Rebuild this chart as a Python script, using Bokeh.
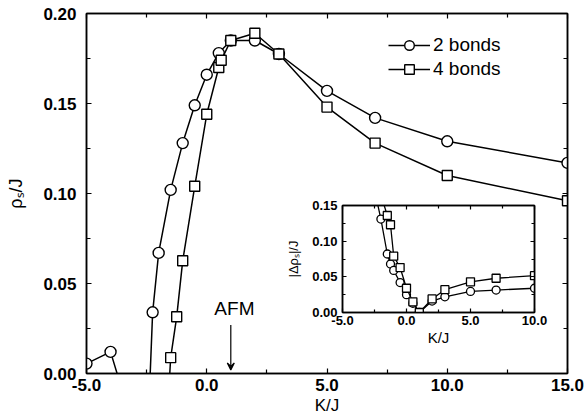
from bokeh.plotting import figure
from bokeh.layouts import column
from bokeh.models import (Range1d, LinearAxis, FixedTicker, NumeralTickFormatter,
                          CustomJSTickFormatter, Legend, LegendItem, Label, Arrow, VeeHead)
from bokeh.embed import file_html
from bokeh.resources import INLINE

# ---- main panel data (rho_s/J vs K/J) ----
k_2bonds = [-5.0, -4.0, -3.0, -2.5, -2.25, -2.0, -1.5, -1.0, -0.5, 0.0, 0.5, 1.0, 2.0, 3.0, 5.0, 7.0, 10.0, 15.0]
rho_2bonds = [0.0055, 0.012, -0.032, -0.05, 0.034, 0.067, 0.102, 0.128, 0.149, 0.166, 0.178, 0.185, 0.185, 0.1775, 0.157, 0.142, 0.129, 0.117]

k_4bonds = [-1.75, -1.5, -1.25, -1.0, -0.5, 0.0, 0.5, 0.6, 1.0, 2.0, 3.0, 5.0, 7.0, 10.0, 15.0]
rho_4bonds = [-0.05, 0.0088, 0.0315, 0.0626, 0.104, 0.144, 0.170, 0.174, 0.185, 0.189, 0.1775, 0.148, 0.128, 0.110, 0.096]

# ---- inset data (|delta rho_s|/J vs K/J) ----
dk_2bonds = [-2.5, -2.0, -1.5, -1.25, -1.0, -0.5, 0.0, 0.5, 1.0, 2.0, 3.0, 5.0, 7.0, 10.0]
drho_2bonds = [0.172, 0.131, 0.082, 0.068, 0.059, 0.042, 0.025, 0.013, 0.0, 0.016, 0.022, 0.0295, 0.0315, 0.034]

dk_4bonds = [-2.0, -1.5, -1.25, -1.0, -0.5, 0.0, 0.5, 1.0, 2.0, 3.0, 5.0, 7.0, 10.0]
drho_4bonds = [0.165, 0.136, 0.123, 0.079, 0.063, 0.034, 0.015, 0.0, 0.019, 0.032, 0.043, 0.048, 0.0516]

# ---- ticks ----
main_x_ticks = [-5.0, 0.0, 5.0, 10.0, 15.0]
main_x_minor = [-2.5, 2.5, 7.5, 12.5]
main_y_ticks = [0.0, 0.05, 0.10, 0.15, 0.20]
main_y_minor = [0.025, 0.075, 0.125, 0.175]
inset_x_ticks = [-5.0, 0.0, 5.0, 10.0]
inset_x_minor = [-2.5, 2.5, 7.5]
inset_y_ticks = [0.0, 0.05, 0.10, 0.15]
inset_y_minor = [0.025, 0.075, 0.125]

labels = ["2 bonds", "4 bonds"]
afm_text = "AFM"
afm_k = 1.0

FONT = "Liberation Sans"


def style_axis(ax, show_labels, lab_size, tick_in, minor_in, lw):
    ax.axis_line_width = lw
    ax.axis_line_color = "black"
    ax.major_tick_in = tick_in
    ax.major_tick_out = 0
    ax.minor_tick_in = minor_in
    ax.minor_tick_out = 0
    ax.major_tick_line_width = 1.2
    ax.minor_tick_line_width = 1.2
    ax.major_tick_line_color = "black"
    ax.minor_tick_line_color = "black"
    ax.major_label_text_font = FONT
    ax.major_label_text_font_style = "bold"
    ax.major_label_text_color = "black"
    ax.axis_label_text_color = "black"
    ax.axis_label_text_font = FONT
    ax.axis_label_text_font_style = "normal"
    if show_labels:
        ax.major_label_text_font_size = lab_size
    else:
        ax.formatter = CustomJSTickFormatter(code="return ''")
        ax.major_label_text_font_size = "0px"
        ax.major_label_standoff = 0


# ================= main figure =================
p = figure(width=584, height=418, x_range=Range1d(-5, 15), y_range=Range1d(0, 0.2),
           output_backend="svg", toolbar_location=None,
           min_border_left=86, min_border_right=17, min_border_top=13, min_border_bottom=45,
           background_fill_color="white", border_fill_color="white")
p.xgrid.grid_line_color = None
p.ygrid.grid_line_color = None
p.outline_line_color = "black"
p.outline_line_width = 1.5

xb = p.xaxis[0]
xb.ticker = FixedTicker(ticks=main_x_ticks, minor_ticks=main_x_minor)
xb.formatter = NumeralTickFormatter(format="0.0")
style_axis(xb, True, "17px", 5, 4, 1.5)
xb.major_label_standoff = 5
xb.axis_label = "K/J"
xb.axis_label_text_font_size = "17px"
xb.axis_label_standoff = 2

yl = p.yaxis[0]
yl.ticker = FixedTicker(ticks=main_y_ticks, minor_ticks=main_y_minor)
yl.formatter = NumeralTickFormatter(format="0.00")
style_axis(yl, True, "17px", 5, 4, 1.5)
yl.major_label_standoff = 10
yl.axis_label = "ρₛ/J"
yl.axis_label_text_font_size = "18px"
yl.axis_label_standoff = 14

xt = LinearAxis(ticker=FixedTicker(ticks=main_x_ticks, minor_ticks=main_x_minor))
style_axis(xt, False, "0px", 5, 4, 1.5)
p.add_layout(xt, "above")
yr = LinearAxis(ticker=FixedTicker(ticks=main_y_ticks, minor_ticks=main_y_minor))
style_axis(yr, False, "0px", 5, 4, 1.5)
p.add_layout(yr, "right")

l2 = p.line(k_2bonds, rho_2bonds, line_color="black", line_width=1.5)
s2 = p.scatter(k_2bonds, rho_2bonds, marker="circle", size=11, fill_color="white",
               line_color="black", line_width=1.4)
l4 = p.line(k_4bonds, rho_4bonds, line_color="black", line_width=1.5)
s4 = p.scatter(k_4bonds, rho_4bonds, marker="square", size=10, fill_color="white",
               line_color="black", line_width=1.4)

leg = Legend(items=[LegendItem(label=labels[0], renderers=[l2, s2]),
                    LegendItem(label=labels[1], renderers=[l4, s4])],
             location=(302, 292), margin=0, padding=0, spacing=0,
             glyph_width=42, glyph_height=24, label_height=24, label_standoff=3,
             label_text_font=FONT, label_text_font_size="19px", label_text_color="black",
             border_line_alpha=0, background_fill_alpha=0)
p.add_layout(leg)

p.add_layout(Label(x=afm_k + 0.15, y=0.036, text=afm_text, text_align="center",
                   text_baseline="middle", text_font=FONT, text_font_size="19px",
                   text_color="black"))
p.add_layout(Arrow(x_start=afm_k, y_start=0.027, x_end=afm_k, y_end=0.002,
                   line_color="black", line_width=1.2,
                   end=VeeHead(size=7, line_color="black", line_width=1.2, fill_color="black")))

# ================= inset =================
# the column aligns left/right borders with the main figure (86 / 17 px)
q = figure(width=295, height=149, x_range=Range1d(-5, 10), y_range=Range1d(0, 0.15),
           output_backend="svg", toolbar_location=None,
           min_border_left=86, min_border_right=17, min_border_top=6, min_border_bottom=36,
           background_fill_alpha=0, border_fill_alpha=0)
q.xgrid.grid_line_color = None
q.ygrid.grid_line_color = None
q.outline_line_color = "black"
q.outline_line_width = 1.5

qx = q.xaxis[0]
qx.ticker = FixedTicker(ticks=inset_x_ticks, minor_ticks=inset_x_minor)
qx.formatter = NumeralTickFormatter(format="0.0")
style_axis(qx, True, "13px", 4, 3, 1.5)
qx.major_label_standoff = 3
qx.axis_label = "K/J"
qx.axis_label_text_font_size = "15px"
qx.axis_label_standoff = 1

qy = q.yaxis[0]
qy.ticker = FixedTicker(ticks=inset_y_ticks, minor_ticks=inset_y_minor)
qy.formatter = NumeralTickFormatter(format="0.00")
style_axis(qy, True, "13px", 4, 3, 1.5)
qy.major_label_standoff = 5
qy.axis_label = "|Δρₛ|/J"
qy.axis_label_text_font_size = "13px"
qy.axis_label_standoff = 8

qxt = LinearAxis(ticker=FixedTicker(ticks=inset_x_ticks, minor_ticks=inset_x_minor))
style_axis(qxt, False, "0px", 4, 3, 1.5)
q.add_layout(qxt, "above")
qyr = LinearAxis(ticker=FixedTicker(ticks=inset_y_ticks, minor_ticks=inset_y_minor))
style_axis(qyr, False, "0px", 4, 3, 1.5)
q.add_layout(qyr, "right")

q.line(dk_2bonds, drho_2bonds, line_color="black", line_width=1.3)
q.scatter(dk_2bonds, drho_2bonds, marker="circle", size=8, fill_color="white",
          line_color="black", line_width=1.3)
q.line(dk_4bonds, drho_4bonds, line_color="black", line_width=1.3)
q.scatter(dk_4bonds, drho_4bonds, marker="square", size=8, fill_color="white",
          line_color="black", line_width=1.3)

q.margin = (-219, 0, 0, 256)

lay = column(p, q, spacing=0)
open("out.html", "w").write(file_html(lay, INLINE))
